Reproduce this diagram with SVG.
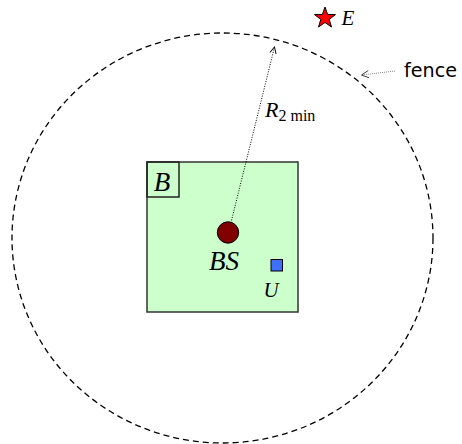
<svg xmlns="http://www.w3.org/2000/svg" width="462" height="444" viewBox="0 0 462 444">
<defs>
<style>
.serif{font-family:"Liberation Serif","Times New Roman",serif;}
.it{font-style:italic;}
.sans{font-family:"DejaVu Sans",Verdana,sans-serif;}
</style>
<marker id="openArrow" viewBox="0 0 10 10" refX="9" refY="5" markerWidth="8" markerHeight="8" markerUnits="userSpaceOnUse" orient="auto">
<path d="M1,1 L9,5 L1,9" fill="none" stroke="#000" stroke-width="1.2"/>
</marker>
<marker id="grayArrow" viewBox="0 0 10 10" refX="9" refY="5" markerWidth="9" markerHeight="9" markerUnits="userSpaceOnUse" orient="auto">
<path d="M1,1 L9,5 L1,9" fill="none" stroke="#333" stroke-width="1"/>
</marker>
</defs>
<rect width="462" height="444" fill="#fff"/>
<g id="fence-circle">
<ellipse cx="222.5" cy="238" rx="210.5" ry="205" fill="none" stroke="#000" stroke-width="1.3" stroke-dasharray="6,4"/>
</g>
<g id="cell">
<rect x="147" y="162" width="151" height="150" fill="#ccffcc" stroke="#333" stroke-width="1.5"/>
</g>
<g id="label-B">
<rect x="147" y="162" width="32" height="35" fill="none" stroke="#222" stroke-width="1.5"/>
<text x="162" y="191" class="serif it" font-size="27" text-anchor="middle">B</text>
</g>
<g id="connectors">
<line x1="228.5" y1="232.5" x2="274.5" y2="47" stroke="#000" stroke-width="1" stroke-dasharray="1,1.5" marker-end="url(#openArrow)"/>
<line x1="395" y1="71" x2="361.5" y2="75" stroke="#888" stroke-width="1" stroke-dasharray="1,1" marker-end="url(#grayArrow)"/>
</g>
<g id="BS">
<circle cx="228" cy="232.5" r="10.7" fill="#800000" stroke="#000" stroke-width="1"/>
<text x="224" y="270" class="serif it" font-size="27" text-anchor="middle">BS</text>
</g>
<g id="U">
<rect x="271" y="259.5" width="11.5" height="11.5" fill="#3f6fff" stroke="#000" stroke-width="1"/>
<text x="271" y="296.5" class="serif it" font-size="21" text-anchor="middle">U</text>
</g>
<g id="R-label">
<text x="265" y="117" class="serif" font-size="22"><tspan class="it">R</tspan><tspan font-size="16" dy="3.5">2 min</tspan></text>
</g>
<g id="E">
<polygon points="325,7 327.6,14.5 335.5,14.6 329.2,19.4 331.5,27 325,22.5 318.5,27 320.8,19.4 314.5,14.6 322.4,14.5" fill="#ff0000" stroke="#000" stroke-width="1"/>
<text x="341.5" y="24.5" class="serif it" font-size="21">E</text>
</g>
<g id="fence">
<text x="404" y="77" class="sans" font-size="19" textLength="53" lengthAdjust="spacingAndGlyphs">fence</text>
</g>
</svg>
